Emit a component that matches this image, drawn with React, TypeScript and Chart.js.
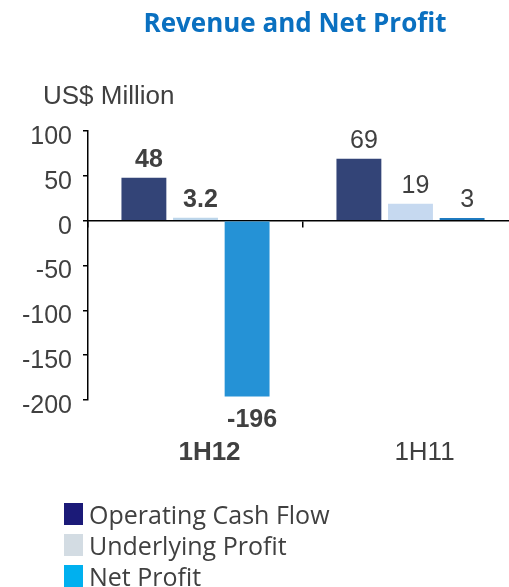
import React, { useEffect, useRef } from "react";
import { Chart, registerables } from "chart.js";

Chart.register(...registerables);

const categories = ["1H12", "1H11"];
const boldCategory = [true, false];
const seriesNames = ["Operating Cash Flow", "Underlying Profit", "Net Profit"];
const operatingCashFlow = [48, 69];
const underlyingProfit = [3.2, 19];
const netProfit = [-196, 3];
const valueLabels = [
  ["48", "69"],
  ["3.2", "19"],
  ["-196", "3"],
];
const yMin = -200;
const yMax = 100;
const yStep = 50;

const barColors = [
  ["#334477", "#334477"],
  ["#BCD5EA", "#C6D9F0"],
  ["#2592D6", "#1F7BC0"],
];
const legendColors = ["#1B1A78", "#D3DCE3", "#00B0EF"];
const textColor = "#404040";
const arial = '"Liberation Sans", Arial, sans-serif';

const labelsPlugin = {
  id: "valueLabels",
  afterDatasetsDraw(chart: any) {
    const ctx = chart.ctx;
    ctx.save();
    ctx.fillStyle = textColor;
    ctx.textAlign = "center";
    ctx.textBaseline = "middle";
    chart.data.datasets.forEach((ds: any, di: number) => {
      const meta = chart.getDatasetMeta(di);
      meta.data.forEach((el: any, i: number) => {
        const v = ds.data[i];
        ctx.font = `${boldCategory[i] ? "bold " : ""}25px ${arial}`;
        const y = v >= 0 ? el.y - 18 : el.y + 24;
        ctx.fillText(valueLabels[di][i], el.x + 5, y);
      });
    });
    const xs = chart.scales.x;
    categories.forEach((c, i) => {
      ctx.font = `${boldCategory[i] ? "bold " : ""}26px ${arial}`;
      ctx.fillText(c, xs.getPixelForValue(i) + 14, chart.chartArea.bottom + 53);
    });
    ctx.restore();
  },
};

export default function App() {
  const ref = useRef<HTMLCanvasElement | null>(null);
  useEffect(() => {
    if (!ref.current) return;
    const chart = new Chart(ref.current, {
      type: "bar",
      data: {
        labels: categories,
        datasets: [
          { label: seriesNames[0], data: operatingCashFlow, backgroundColor: barColors[0] },
          { label: seriesNames[1], data: underlyingProfit, backgroundColor: barColors[1] },
          { label: seriesNames[2], data: netProfit, backgroundColor: barColors[2] },
        ],
      },
      options: {
        animation: false,
        responsive: false,
        maintainAspectRatio: false,
        devicePixelRatio: 1,
        layout: { padding: { left: 0, right: 12, top: 131, bottom: 187 } },
        datasets: { bar: { categoryPercentage: 0.72, barPercentage: 0.87 } },
        plugins: { legend: { display: false }, tooltip: { enabled: false }, title: { display: false } },
        scales: {
          x: {
            type: "category",
            position: { y: 0 } as any,
            offset: true,
            grid: { display: true, drawOnChartArea: false, drawTicks: true, tickLength: 6, color: "#000", offset: true, lineWidth: 1.5 },
            border: { display: true, color: "#000", width: 1.5 },
            ticks: { display: false },
          },
          y: {
            min: yMin,
            max: yMax,
            afterFit: (s: any) => {
              s.width = 88;
            },
            ticks: { stepSize: yStep, color: textColor, font: { family: arial, size: 25 }, padding: 11, labelOffset: 6 },
            grid: { drawOnChartArea: false, tickLength: 5, color: "#000", lineWidth: 1.5 },
            border: { display: true, color: "#000", width: 1.5 },
          },
        },
      },
      plugins: [labelsPlugin],
    });
    return () => chart.destroy();
  }, []);

  return (
    <div style={{ position: "fixed", left: 0, top: 0, width: 509, height: 587, overflow: "hidden", background: "#fff" }}>
      <canvas ref={ref} width={530} height={587} style={{ position: "absolute", left: 0, top: 0, width: 530, height: 587 }} />
      <div
        style={{
          position: "absolute",
          left: 295,
          top: 22,
          transform: "translate(-50%, -50%)",
          whiteSpace: "nowrap",
          fontFamily: '"Open Sans", sans-serif',
          fontWeight: 700,
          fontSize: 26,
          color: "#0A70C0",
          lineHeight: 1,
        }}
      >
        Revenue and Net Profit
      </div>
      <div
        style={{
          position: "absolute",
          left: 43,
          top: 95,
          transform: "translateY(-50%)",
          whiteSpace: "nowrap",
          fontFamily: arial,
          fontSize: 26,
          color: textColor,
          lineHeight: 1,
        }}
      >
        US$ Million
      </div>
      {seriesNames.map((name, i) => (
        <div key={name} style={{ position: "absolute", left: 64, top: 503 + i * 31, height: 22, display: "flex", alignItems: "center" }}>
          <div style={{ width: 19, height: 22, background: legendColors[i], marginRight: 6 }} />
          <span style={{ fontFamily: '"Open Sans", sans-serif', fontSize: 25, color: textColor, whiteSpace: "nowrap", lineHeight: 1 }}>
            {name}
          </span>
        </div>
      ))}
    </div>
  );
}
